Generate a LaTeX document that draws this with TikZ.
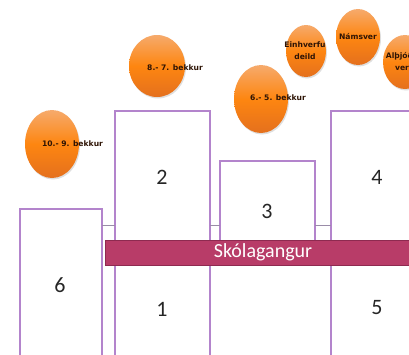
\documentclass[tikz,border=0pt]{standalone}
\usepackage{fontspec}
\setmainfont{Carlito}
\newfontfamily\egglabelfont{DejaVu Sans}
\usetikzlibrary{shadows,shapes.geometric}
\definecolor{boxpurple}{HTML}{B384CC}
\definecolor{barred}{HTML}{B83C68}
\definecolor{barborder}{HTML}{8E2A50}
\definecolor{linkgray}{HTML}{9A8CA8}
\definecolor{orangetop}{HTML}{F6AA6C}
\definecolor{orangebot}{HTML}{E4701E}
\definecolor{labelbrown}{HTML}{2E1405}
\tikzset{
  roombox/.style={draw=boxpurple, line width=1.8pt, fill=white, rectangle, inner sep=0pt, outer sep=0pt, anchor=north west},
  roomnum/.style={font=\fontsize{22}{24}\selectfont, text=black!85, inner sep=0pt},
  egg/.style={ellipse, draw=none, top color=orangetop, bottom color=orangebot, middle color=orange!85!orangetop, inner sep=0pt,
    drop shadow={opacity=0.25, shadow xshift=1pt, shadow yshift=-1.5pt}},
  egglabel/.style={font=\egglabelfont\bfseries\fontsize{7.6}{12}\selectfont, text=labelbrown, inner sep=0pt, align=center},
  link/.style={draw=linkgray, line width=0.8pt},
  corridor/.style={fill=barred, draw=barborder, line width=0.6pt, rectangle, inner sep=0pt, outer sep=0pt, anchor=north west}
}
\begin{document}
\begin{tikzpicture}[x=1pt, y=-1pt]
\useasboundingbox (0,0) rectangle (409,354);
\clip (0,0) rectangle (409,354);
\fill[white] (0,0) rectangle (409,354);

% rooms
\node[roombox, minimum width=82pt, minimum height=160pt] (box6) at (20,209) {};
\node[roombox, minimum width=95pt, minimum height=260pt] (box21) at (115,111) {};
\node[roombox, minimum width=95pt, minimum height=84pt] (box3) at (220,161) {};
\node[roombox, minimum width=100pt, minimum height=260pt] (box45) at (331,111) {};

% small connections
\coordinate (linky) at (0,225);
\draw[link] (box6.east |- linky) -- (box21.west |- linky);
\draw[link] (box21.east |- linky) -- (box3.west |- linky);
\draw[link] (box3.east |- linky) -- (box45.west |- linky);

% corridor
\node[corridor, minimum width=320pt, minimum height=25pt] (bar) at (105,240) {};
\node[font=\fontsize{20}{22}\selectfont, text=white, inner sep=0pt] (bartext) at (263,252.5) {Skólagangur};

% numbers
\node[roomnum] (n2) at (162,177) {2};
\node[roomnum] (n1) at (162,309) {1};
\node[roomnum] (n3) at (267,211) {3};
\node[roomnum] (n4) at (377,177) {4};
\node[roomnum] (n5) at (377,308) {5};
\node[roomnum] (n6) at (60,285) {6};

% ellipses
\node[egg, minimum width=54pt, minimum height=68pt] (e109) at (52,144) {};
\node[egg, minimum width=56pt, minimum height=62pt] (e87) at (157,66) {};
\node[egg, minimum width=54pt, minimum height=68pt] (e65) at (261,99) {};
\node[egg, minimum width=40pt, minimum height=52pt] (eein) at (306,51) {};
\node[egg, minimum width=44pt, minimum height=56pt] (enam) at (358,37) {};
\node[egg, minimum width=44pt, minimum height=54pt] (ealt) at (405,62) {};

\node[egglabel] (t109) at (72.5,144) {10.- 9. bekkur};
\node[egglabel] (t87) at (175,68) {8.- 7. bekkur};
\node[egglabel] (t65) at (278,98) {6.- 5. bekkur};
\node[egglabel] (tein) at (305,51) {Einhverfu\\deild};
\node[egglabel] (tnam) at (358,37) {Námsver};
\node[egglabel] (talt) at (402,62) {Alþjóða\\ver};
\end{tikzpicture}
\end{document}
